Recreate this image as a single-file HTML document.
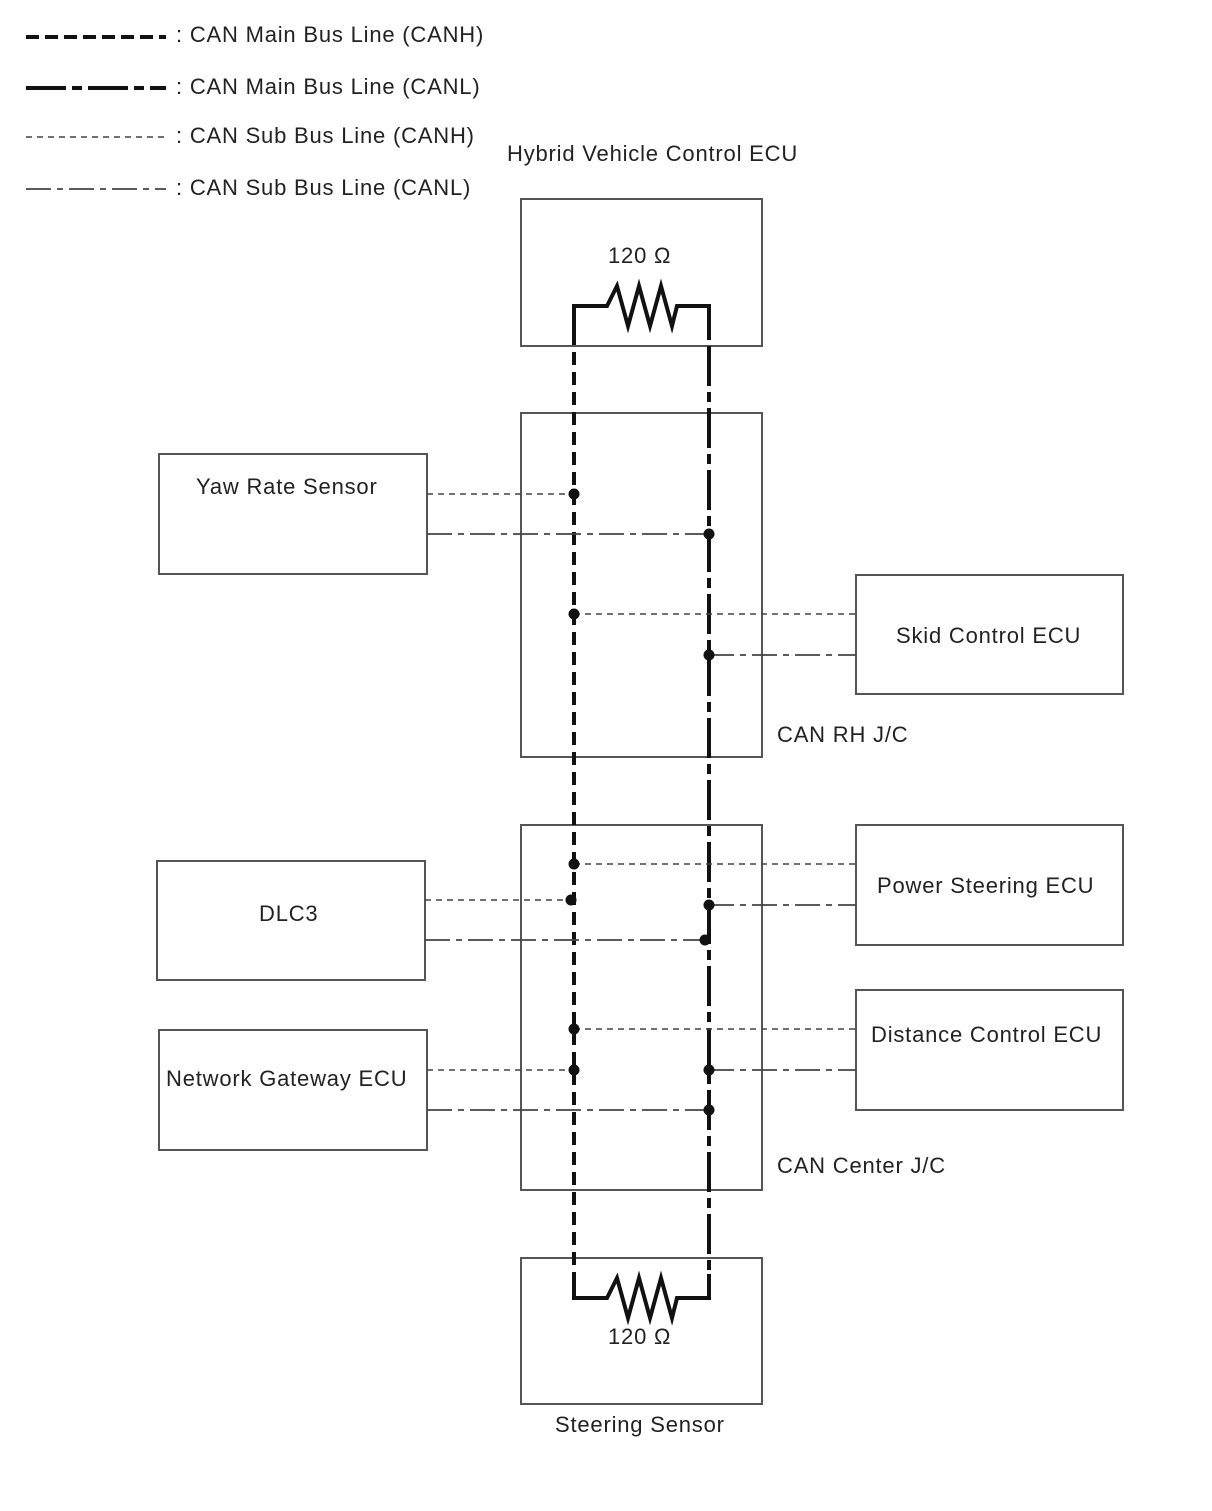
<!DOCTYPE html>
<html><head><meta charset="utf-8"><style>
body{margin:0;background:#fff}
svg text{font-family:"Liberation Sans",sans-serif;font-size:22px;letter-spacing:0.8px;fill:#222}
</style></head><body>
<svg width="1212" height="1506" viewBox="0 0 1212 1506" xmlns="http://www.w3.org/2000/svg">
<g fill="none">
<line x1="26" y1="37" x2="166" y2="37" stroke="#111" stroke-width="4" stroke-dasharray="13,6"/>
<line x1="26" y1="88" x2="166" y2="88" stroke="#111" stroke-width="4" stroke-dasharray="40,6,10,6"/>
<line x1="26" y1="137" x2="164" y2="137" stroke="#444" stroke-width="1.6" stroke-dasharray="6,5"/>
<line x1="26" y1="189" x2="166" y2="189" stroke="#444" stroke-width="1.8" stroke-dasharray="25,6,6,6"/>
<g stroke="#555" stroke-width="2">
<rect x="521" y="199" width="241" height="147"/>
<rect x="521" y="413" width="241" height="344"/>
<rect x="159" y="454" width="268" height="120"/>
<rect x="856" y="575" width="267" height="119"/>
<rect x="521" y="825" width="241" height="365"/>
<rect x="157" y="861" width="268" height="119"/>
<rect x="856" y="825" width="267" height="120"/>
<rect x="856" y="990" width="267" height="120"/>
<rect x="159" y="1030" width="268" height="120"/>
<rect x="521" y="1258" width="241" height="146"/>
</g>
<polyline points="574,332 574,306 607,306 617,286 628,326 639,286 650,326 661,286 672,326 677,306 709,306 709,330" stroke="#111" stroke-width="4"/>
<polyline points="574,1272 574,1298 607,1298 617,1278 628,1318 639,1278 650,1318 661,1278 672,1318 677,1298 709,1298 709,1274" stroke="#111" stroke-width="4"/>
<line x1="574" y1="332" x2="574" y2="1272" stroke="#111" stroke-width="4" stroke-dasharray="13,7"/>
<line x1="709" y1="330" x2="709" y2="1274" stroke="#111" stroke-width="4" stroke-dasharray="10,6,40,6"/>
<g stroke="#444" stroke-width="1.6" stroke-dasharray="6,5">
<line x1="427" y1="494" x2="574" y2="494"/>
<line x1="574" y1="614" x2="856" y2="614"/>
<line x1="574" y1="864" x2="856" y2="864"/>
<line x1="425" y1="900" x2="571" y2="900"/>
<line x1="574" y1="1029" x2="856" y2="1029"/>
<line x1="427" y1="1070" x2="574" y2="1070"/>
</g>
<g stroke="#444" stroke-width="1.8" stroke-dasharray="25,6,6,6">
<line x1="427" y1="534" x2="709" y2="534"/>
<line x1="709" y1="655" x2="856" y2="655"/>
<line x1="709" y1="905" x2="856" y2="905"/>
<line x1="425" y1="940" x2="705" y2="940"/>
<line x1="709" y1="1070" x2="856" y2="1070"/>
<line x1="427" y1="1110" x2="709" y2="1110"/>
</g>
</g>
<g fill="#111">
<circle cx="574" cy="494" r="5.5"/><circle cx="709" cy="534" r="5.5"/>
<circle cx="574" cy="614" r="5.5"/><circle cx="709" cy="655" r="5.5"/>
<circle cx="574" cy="864" r="5.5"/><circle cx="709" cy="905" r="5.5"/>
<circle cx="571" cy="900" r="5.5"/><circle cx="705" cy="940" r="5.5"/>
<circle cx="574" cy="1029" r="5.5"/><circle cx="709" cy="1070" r="5.5"/>
<circle cx="574" cy="1070" r="5.5"/><circle cx="709" cy="1110" r="5.5"/>
</g>
<text x="176" y="42">: CAN Main Bus Line (CANH)</text>
<text x="176" y="94">: CAN Main Bus Line (CANL)</text>
<text x="176" y="143">: CAN Sub Bus Line (CANH)</text>
<text x="176" y="195">: CAN Sub Bus Line (CANL)</text>
<text x="507" y="161">Hybrid Vehicle Control ECU</text>
<text x="608" y="263">120 Ω</text>
<text x="196" y="494">Yaw Rate Sensor</text>
<text x="896" y="643">Skid Control ECU</text>
<text x="777" y="742">CAN RH J/C</text>
<text x="877" y="893">Power Steering ECU</text>
<text x="259" y="921">DLC3</text>
<text x="871" y="1042">Distance Control ECU</text>
<text x="166" y="1086">Network Gateway ECU</text>
<text x="777" y="1173">CAN Center J/C</text>
<text x="608" y="1344">120 Ω</text>
<text x="555" y="1432">Steering Sensor</text>
</svg>
</body></html>
